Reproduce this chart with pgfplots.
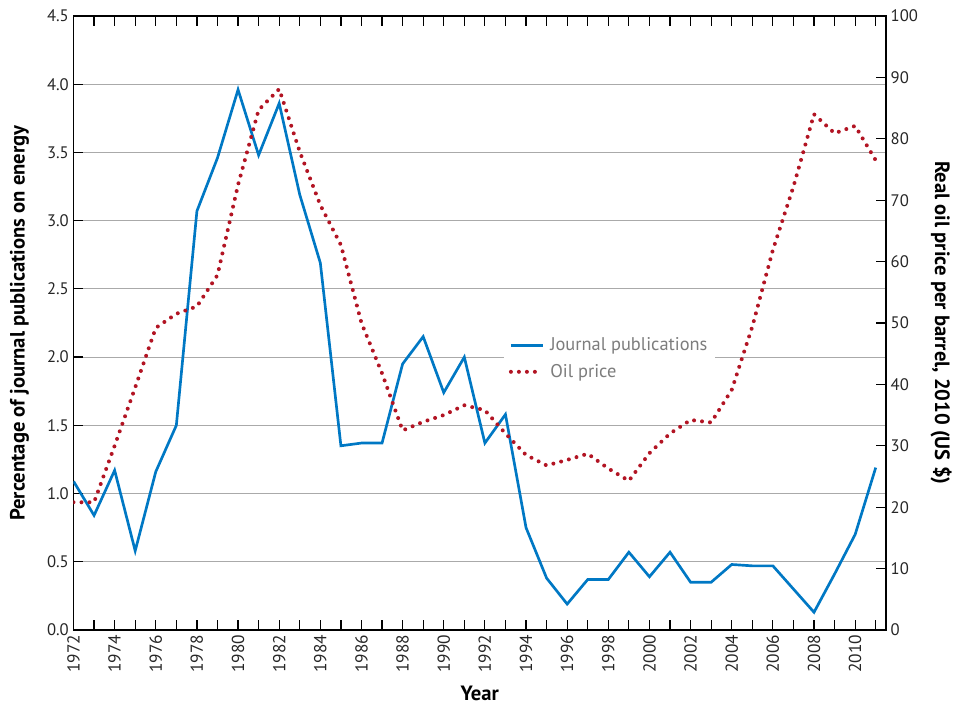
\documentclass[border=0pt]{standalone}
\usepackage{pgfplots}
\usepackage{pgfplotstable}
\pgfplotsset{compat=1.18}
\usepackage{fontspec}
\setmainfont{PT Sans}

\definecolor{pubblue}{RGB}{0,120,196}
\definecolor{oilred}{RGB}{178,20,35}
\definecolor{gridgray}{RGB}{170,170,170}
\definecolor{leggray}{RGB}{125,125,125}

\pgfplotstableread{
year pub
1972 1.09
1973 0.84
1974 1.17
1975 0.58
1976 1.16
1977 1.50
1978 3.07
1979 3.46
1980 3.96
1981 3.48
1982 3.86
1983 3.19
1984 2.69
1985 1.35
1986 1.37
1987 1.37
1988 1.95
1989 2.15
1990 1.74
1991 2.00
1992 1.37
1993 1.58
1994 0.75
1995 0.38
1996 0.19
1997 0.37
1998 0.37
1999 0.57
2000 0.39
2001 0.57
2002 0.35
2003 0.35
2004 0.48
2005 0.47
2006 0.47
2007 0.30
2008 0.13
2009 0.41
2010 0.70
2011 1.19
}\pubtable

\pgfplotstableread{
year oil
1972 20.8
1973 20.8
1974 30.0
1975 39.5
1976 49.2
1977 51.5
1978 52.7
1979 57.8
1980 72.5
1981 84.7
1982 88.1
1983 77.9
1984 69.2
1985 62.7
1986 50.0
1987 41.8
1988 32.5
1989 33.9
1990 35.0
1991 36.6
1992 35.8
1993 32.0
1994 28.5
1995 26.8
1996 27.7
1997 28.7
1998 26.3
1999 24.3
2000 28.8
2001 32.0
2002 34.2
2003 33.8
2004 39.1
2005 49.4
2006 61.9
2007 72.2
2008 84.0
2009 80.9
2010 82.1
2011 76.5
}\oiltable

\begin{document}
\begin{tikzpicture}
\pgfplotsset{
  common/.style={
    width=609.4pt, height=460.5pt, scale only axis,
    xmin=1972, xmax=2011.5,
    /pgf/number format/assume math mode=true,
    /pgf/number format/1000 sep={},
    tick align=inside,
    major tick length=7.5pt, minor tick length=7.5pt,
    every tick/.style={black, line width=0.9pt},
    axis line style={black, line width=1.1pt},
    tick label style={font=\fontsize{12.5}{14}\selectfont, text=black!85},
    label style={font=\bfseries\fontsize{15.5}{17}\selectfont},
  }
}
\begin{axis}[common, name=ax,
  ymin=0, ymax=4.5, ytick={0,0.5,1,1.5,2,2.5,3,3.5,4,4.5},
  yticklabel style={/pgf/number format/.cd, fixed, fixed zerofill, precision=1},
  ytick pos=left,
  xtick={1972,1974,...,2010},
  minor xtick={1973,1975,...,2011},
  xtick pos=both, xticklabel pos=lower,
  xticklabel style={rotate=90, anchor=east, font=\fontsize{13}{14}\selectfont},
  ymajorgrids, grid style={gridgray, line width=0.8pt},
  xlabel={Year},
  ylabel={Percentage of journal publications on energy},
  xlabel style={at={(axis description cs:0.5,-0.103)}, anchor=center},
  ylabel style={at={(axis description cs:-0.0665,0.5)}, anchor=center},
]
\addplot[pubblue, line width=2pt] table[x=year,y=pub]{\pubtable};
\end{axis}
\begin{axis}[common,
  axis x line=none,
  axis y line*=right,
  ymin=0, ymax=100, ytick={0,10,...,100},
  ylabel={Real oil price per barrel, 2010 (US \$)},
  ylabel style={at={(axis description cs:1.0677,0.5)}, anchor=center, rotate=180},
  legend style={at={(axis description cs:0.529,0.487)}, anchor=north west,
    draw=none, fill=white, font=\fontsize{13.8}{16}\selectfont, text=leggray,
    row sep=4.5pt, inner xsep=4pt, inner ysep=3pt,
    /tikz/every odd column/.append style={column sep=2pt}},
  legend cell align=left,
  legend image code/.code={\draw[#1] (0pt,0pt) -- (24pt,0pt);},
]
\addlegendimage{pubblue, line width=2pt}
\addlegendentry{Journal publications}
\addplot[oilred, line width=3pt, line cap=round, dash pattern=on 0pt off 6pt] table[x=year,y=oil]{\oiltable};
\addlegendentry{Oil price}
\end{axis}
\pgfresetboundingbox
\path[use as bounding box] ([xshift=-55.125pt,yshift=-57.75pt]ax.south west) rectangle ([xshift=52.5pt,yshift=12pt]ax.north east);
\end{tikzpicture}
\end{document}
